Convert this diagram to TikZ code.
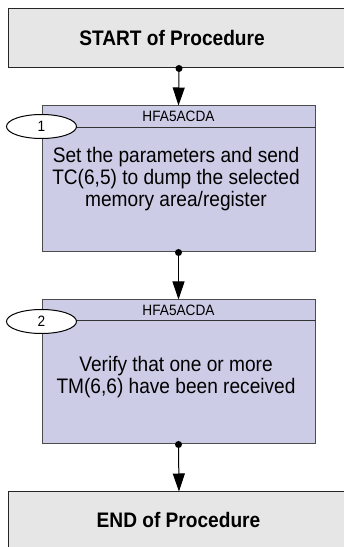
\documentclass[tikz,border=0pt]{standalone}
\usepackage{fontspec}
\setmainfont{Liberation Sans}
\newfontfamily\condfont[FakeStretch=0.91]{Liberation Sans}
\usetikzlibrary{arrows.meta,shapes.geometric}
\definecolor{lav}{RGB}{204,204,230}
\definecolor{termgray}{RGB}{230,230,230}
\begin{document}
\begin{tikzpicture}[x=1pt,y=1pt,
  termbox/.style={draw=black!85, fill=termgray, line width=1pt, rectangle, inner sep=0pt},
  stepbox/.style={draw=black!70, fill=lav, line width=1pt, rectangle, inner sep=0pt},
  termtext/.style={font=\condfont\bfseries\fontsize{21}{22}\selectfont, inner sep=0pt},
  bodytext/.style={font=\condfont\fontsize{21}{22}\selectfont, align=center, inner sep=0pt},
  hdrtext/.style={font=\condfont\fontsize{15}{16}\selectfont, inner sep=0pt},
  hdrline/.style={draw=black!80, line width=1pt},
  numell/.style={ellipse, draw=black, fill=white, line width=1pt, minimum width=70pt, minimum height=24pt, inner sep=0pt, font=\condfont\fontsize{15}{17}\selectfont},
  dotnode/.style={circle, fill=black, minimum size=7pt, inner sep=0pt},
  conn/.style={draw=black, line width=1pt, -{Triangle[width=12pt,length=18pt]}}
]
\useasboundingbox (0,0) rectangle (344,547);
% START
\node[termbox, minimum width=342pt, minimum height=59pt] (start) at (179,508.5) {};
\node[termtext] (starttxt) at (172,509) {START of Procedure};
% Step 1
\node[stepbox, minimum width=273pt, minimum height=146pt] (s1) at (178.5,368) {};
\draw[hdrline] ([yshift=-22pt]s1.north west) -- ([yshift=-22pt]s1.north east);
\node[hdrtext] (h1) at ([yshift=-11pt]s1.north) {HFA5ACDA};
\node[numell] (n1) at ([yshift=-21pt]s1.north west) {1};
\node[bodytext] (b1) at (176,368) {Set the parameters and send\\TC(6,5) to dump the selected\\memory area/register};
% Step 2
\node[stepbox, minimum width=273pt, minimum height=144pt] (s2) at (178.5,175) {};
\draw[hdrline] ([yshift=-21pt]s2.north west) -- ([yshift=-21pt]s2.north east);
\node[hdrtext] (h2) at ([yshift=-10.5pt]s2.north) {HFA5ACDA};
\node[numell] (n2) at ([yshift=-22pt]s2.north west) {2};
\node[bodytext] (b2) at (176,170) {Verify that one or more\\TM(6,6) have been received};
% END
\node[termbox, minimum width=342pt, minimum height=65pt] (end) at (179,22.5) {};
\node[termtext] (endtxt) at (178.5,27) {END of Procedure};
% connectors
\node[dotnode] (d0) at (start.south) {};
\node[dotnode] (d1) at (s1.south) {};
\node[dotnode] (d2) at (s2.south) {};
\draw[conn] (d0.center) -- (s1.north);
\draw[conn] (d1.center) -- (s2.north);
\draw[conn] (d2.center) -- (end.north);
\end{tikzpicture}
\end{document}
